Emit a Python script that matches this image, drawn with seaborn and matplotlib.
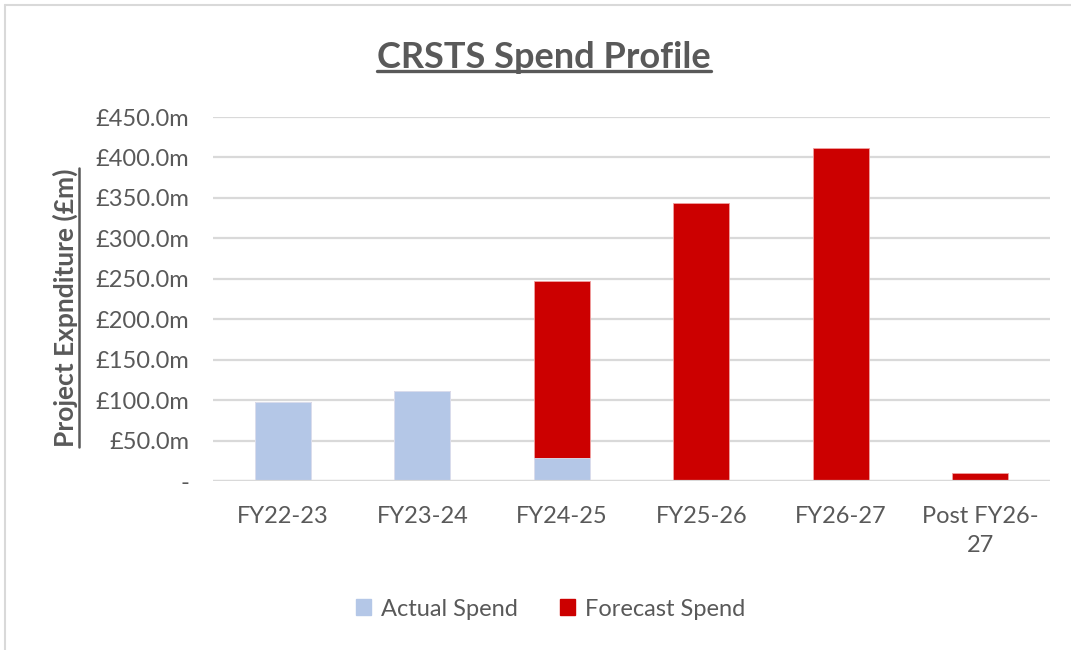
import numpy as np
import pandas as pd
import seaborn as sns
import matplotlib.pyplot as plt
from matplotlib.patches import Patch
from matplotlib.lines import Line2D

# Data (£m)
years = ["FY22-23", "FY23-24", "FY24-25", "FY25-26", "FY26-27", "Post FY26-\n27"]
actual_spend = [98, 111, 28, 0, 0, 0]
forecast_spend = [0, 0, 219, 344, 412, 9.5]
y_ticks = [0, 50, 100, 150, 200, 250, 300, 350, 400, 450]

ACTUAL_COLOR = "#B4C7E7"
FORECAST_COLOR = "#CC0000"
TEXT_COLOR = "#595959"

sns.set_theme(style="white")
plt.rcParams["font.family"] = ["Lato", "DejaVu Sans"]

df = pd.DataFrame({"Year": years, "Actual": actual_spend, "Forecast": forecast_spend})
df["Total"] = df["Actual"] + df["Forecast"]

fig = plt.figure(figsize=(10.71, 6.5), dpi=100)
ax = fig.add_axes([0.199, 0.26, 0.7815, 0.56])

# stacked bars: total in red, actual drawn over it in blue
sns.barplot(data=df, x="Year", y="Total", color=FORECAST_COLOR, width=0.4,
            saturation=1, edgecolor="#f0a0a0", linewidth=0.6, ax=ax, zorder=3)
sns.barplot(data=df, x="Year", y="Actual", color=ACTUAL_COLOR, width=0.4,
            saturation=1, edgecolor="#dbe5f5", linewidth=0.6, ax=ax, zorder=4)

ax.set_ylim(0, 450)
ax.set_yticks(y_ticks)
ax.set_yticklabels(["-"] + [f"£{v:.1f}m" for v in y_ticks[1:]])
ax.yaxis.grid(True, color="#d9d9d9", linewidth=1.6, zorder=0)
ax.set_axisbelow(True)
for s in ax.spines.values():
    s.set_visible(False)
ax.axhline(0, color="#d9d9d9", linewidth=1.6, zorder=5)
ax.tick_params(axis="both", length=0, colors=TEXT_COLOR, labelsize=17)
ax.tick_params(axis="x", pad=18)
ax.tick_params(axis="y", pad=17)
for lbl in ax.get_xticklabels():
    lbl.set_linespacing(1.45)
ax.set_xlabel("")
ax.set_ylabel("")

# titles (underlined)
title = fig.text(0.508, 0.912, "CRSTS Spend Profile", ha="center", va="center",
                 fontsize=26, fontweight="bold", color=TEXT_COLOR)
ylab = fig.text(0.061, 0.527, "Project Expnditure (£m)", ha="center", va="center",
                rotation=90, fontsize=19, fontweight="bold", color=TEXT_COLOR)

fig.canvas.draw()
r = fig.canvas.get_renderer()
bb = title.get_window_extent(r).transformed(fig.transFigure.inverted())
fig.add_artist(Line2D([bb.x0, bb.x1], [bb.y0 + 0.004, bb.y0 + 0.004],
                      color=TEXT_COLOR, linewidth=2.4))
bb = ylab.get_window_extent(r).transformed(fig.transFigure.inverted())
fig.add_artist(Line2D([bb.x1 + 0.001, bb.x1 + 0.001], [bb.y0, bb.y1],
                      color=TEXT_COLOR, linewidth=1.8))

# legend
handles = [Patch(color=ACTUAL_COLOR, label="Actual Spend"),
           Patch(color=FORECAST_COLOR, label="Forecast Spend")]
fig.legend(handles=handles, loc="center", bbox_to_anchor=(0.514, 0.063), ncol=2,
           frameon=False, fontsize=17, handlelength=0.65, handleheight=0.65,
           columnspacing=1.8, handletextpad=0.4, labelcolor=TEXT_COLOR)

# outer chart border
fig.add_artist(Line2D([0.005, 0.005], [0.0, 0.992], color="#d9d9d9", linewidth=1.5))
fig.add_artist(Line2D([0.005, 1.0], [0.992, 0.992], color="#d9d9d9", linewidth=1.5))

fig.savefig("out.png", dpi=100, facecolor="white")
